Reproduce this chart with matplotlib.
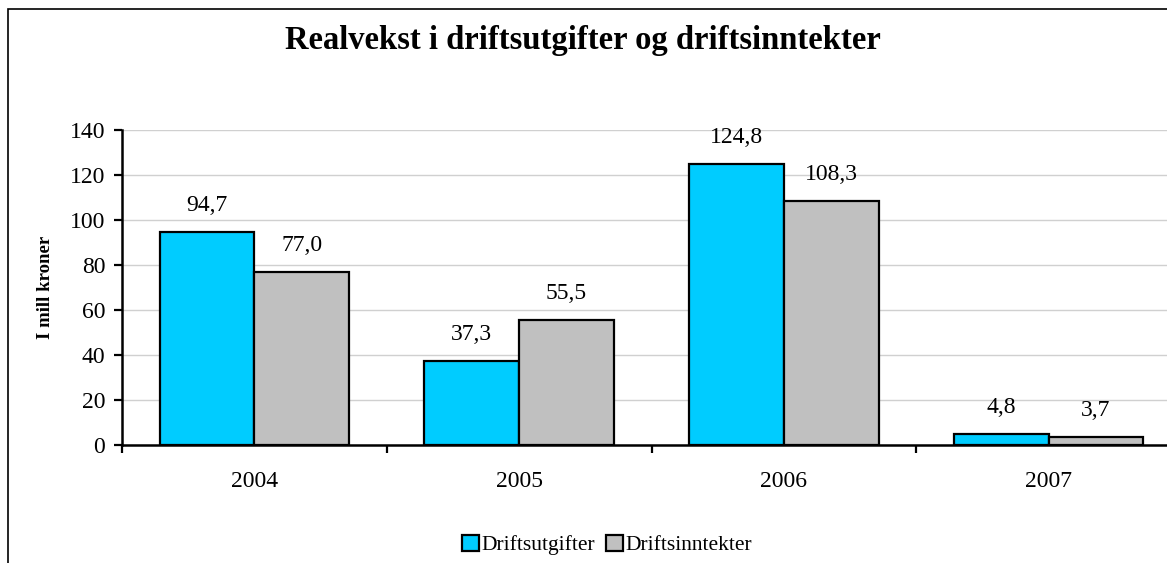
import numpy as np
import matplotlib.pyplot as plt
from matplotlib.patches import Rectangle

years = ['2004', '2005', '2006', '2007']
utgifter = [94.7, 37.3, 124.8, 4.8]
inntekter = [77.0, 55.5, 108.3, 3.7]
series_names = ['Driftsutgifter', 'Driftsinntekter']
colors = ['#00CCFF', '#C0C0C0']
yticks = [0, 20, 40, 60, 80, 100, 120, 140]

plt.rcParams['font.family'] = ['Liberation Serif', 'DejaVu Serif']

W, H = 1167, 563
fig = plt.figure(figsize=(W / 100, H / 100), dpi=100)

# outer chart border (runs off the right and bottom edges)
fig.patches.append(Rectangle((8 / W, -0.1), 1.2, (H - 9) / H + 0.1,
                             transform=fig.transFigure, fill=False,
                             edgecolor='black', linewidth=1.2))

ax = fig.add_axes([122 / W, (H - 445) / H, 1059 / W, 315 / H])

x = np.arange(len(years))
w = 0.358
b1 = ax.bar(x - w / 2, utgifter, w, color=colors[0], edgecolor='black',
            linewidth=1.6, label=series_names[0], zorder=3)
b2 = ax.bar(x + w / 2, inntekter, w, color=colors[1], edgecolor='black',
            linewidth=1.6, label=series_names[1], zorder=3)

for bars, vals in ((b1, utgifter), (b2, inntekter)):
    for rect, v in zip(bars, vals):
        ax.annotate(f'{v:.1f}'.replace('.', ','),
                    (rect.get_x() + rect.get_width() / 2, v),
                    xytext=(0, 19), textcoords='offset points',
                    ha='center', va='center', fontsize=17)

ax.set_xlim(-0.5, len(years) - 0.5)
ax.set_ylim(0, 140)
ax.set_yticks(yticks)
ax.set_yticklabels([str(t) for t in yticks], fontsize=17)
ax.yaxis.grid(True, color='#D0D0D0', linewidth=1.0, zorder=0)
ax.set_axisbelow(True)

ax.set_xticks(np.arange(len(years) + 1) - 0.5)
ax.set_xticklabels([])
ax.set_xticks(x, minor=True)
ax.set_xticklabels(years, minor=True, fontsize=17)
ax.tick_params(axis='x', which='minor', length=0, pad=19)
ax.tick_params(axis='x', which='major', direction='out', length=6, width=1.6)
ax.tick_params(axis='y', direction='out', length=6, width=1.6, pad=6)

for side in ('top', 'right'):
    ax.spines[side].set_visible(False)
for side in ('left', 'bottom'):
    ax.spines[side].set_linewidth(1.8)

ax.set_ylabel('I mill kroner', fontsize=13.5, fontweight='bold')
ax.yaxis.set_label_coords(-0.064, 0.5)

fig.text(583 / W, 1 - 40 / H, 'Realvekst i driftsutgifter og driftsinntekter',
         ha='center', va='center', fontsize=23.5, fontweight='bold')

leg = fig.legend(handles=[b1, b2], loc='center', bbox_to_anchor=(607 / W, 1 - 545 / H),
                 ncol=2, frameon=False, fontsize=15.5, handlelength=0.8,
                 handleheight=0.8, handletextpad=0.1, columnspacing=0.5)

fig.savefig('out.png', dpi=100)
